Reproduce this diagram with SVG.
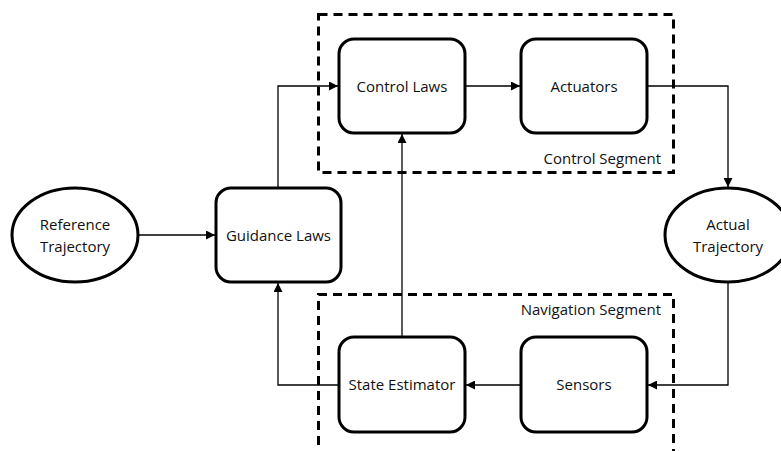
<svg xmlns="http://www.w3.org/2000/svg" width="781" height="451" viewBox="0 0 781 451">
  <style>
    .seg { fill: none; stroke: #000; stroke-width: 3; stroke-dasharray: 9 6; }
    .box { fill: #fff; stroke: #000; stroke-width: 3; }
    .wire { fill: none; stroke: #000; stroke-width: 1.3; }
    text { font-family: "Open Sans", "Liberation Sans", sans-serif; font-size: 15px; fill: #111; }
    .c { text-anchor: middle; }
    .r { text-anchor: end; }
  </style>
  <defs>
    <marker id="arrow" viewBox="0 0 10 10" refX="10" refY="5" markerWidth="9" markerHeight="9" markerUnits="userSpaceOnUse" orient="auto">
      <path d="M0,0 L10,5 L0,10 Z" fill="#000"/>
    </marker>
  </defs>

  <rect width="781" height="451" fill="#fff"/>

  <!-- segment frames -->
  <g id="control-segment">
    <rect class="seg" x="318.5" y="14.5" width="355" height="158"/>
    <text class="r" x="661" y="164">Control Segment</text>
  </g>
  <g id="navigation-segment">
    <path class="seg" d="M318.5,460 V294.5 H673.5 V460"/>
    <text class="r" x="661" y="315">Navigation Segment</text>
  </g>

  <!-- connectors -->
  <g id="connectors">
    <path class="wire" d="M138,235 H215" marker-end="url(#arrow)"/>
    <path class="wire" d="M278,188 V86 H338" marker-end="url(#arrow)"/>
    <path class="wire" d="M465,86 H520" marker-end="url(#arrow)"/>
    <path class="wire" d="M647,86 H728 V187" marker-end="url(#arrow)"/>
    <path class="wire" d="M728,282 V385 H648" marker-end="url(#arrow)"/>
    <path class="wire" d="M521,385 H466" marker-end="url(#arrow)"/>
    <path class="wire" d="M339,385 H278 V283" marker-end="url(#arrow)"/>
    <path class="wire" d="M402,337 V134" marker-end="url(#arrow)"/>
  </g>

  <!-- nodes -->
  <g id="reference-trajectory">
    <ellipse class="box" cx="75" cy="235" rx="63" ry="47"/>
    <text class="c" x="75" y="230">Reference</text>
    <text class="c" x="75" y="252">Trajectory</text>
  </g>
  <g id="guidance-laws">
    <rect class="box" x="216" y="188" width="125" height="94" rx="15"/>
    <text class="c" x="278.5" y="241">Guidance Laws</text>
  </g>
  <g id="control-laws">
    <rect class="box" x="339" y="39" width="126" height="94" rx="15"/>
    <text class="c" x="402" y="92">Control Laws</text>
  </g>
  <g id="actuators">
    <rect class="box" x="521" y="39" width="126" height="94" rx="15"/>
    <text class="c" x="584" y="92">Actuators</text>
  </g>
  <g id="actual-trajectory">
    <ellipse class="box" cx="728" cy="235" rx="63" ry="47"/>
    <text class="c" x="728" y="230">Actual</text>
    <text class="c" x="728" y="252">Trajectory</text>
  </g>
  <g id="state-estimator">
    <rect class="box" x="339" y="337" width="126" height="95" rx="15"/>
    <text class="c" x="402" y="390">State Estimator</text>
  </g>
  <g id="sensors">
    <rect class="box" x="521" y="337" width="126" height="95" rx="15"/>
    <text class="c" x="584" y="390">Sensors</text>
  </g>
</svg>
